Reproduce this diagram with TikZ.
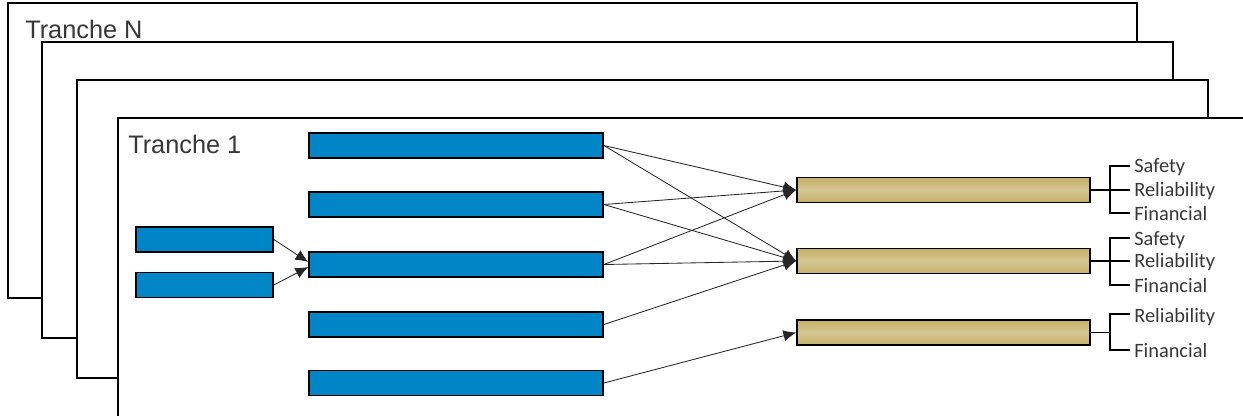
\documentclass[tikz,border=0pt]{standalone}
\usepackage{fontspec}
\setmainfont{Liberation Sans}
\newfontfamily\critfont{Carlito}
\usepackage{tikz}
\usetikzlibrary{arrows.meta}

\definecolor{boxblue}{RGB}{0,133,199}
\definecolor{boxtan}{RGB}{197,176,104}
\definecolor{inkgrey}{RGB}{56,56,56}

\tikzset{
  page/.style={draw=black,line width=1.4pt,fill=white},
  tranche/.style={anchor=base west,inner sep=0,text=inkgrey,font=\fontsize{18}{21}\selectfont},
  bluebox/.style={draw=black,line width=1.2pt,fill=boxblue,inner sep=0,minimum height=0.625cm},
  tanbox/.style={draw=black,line width=1.2pt,inner sep=0,minimum height=0.625cm,minimum width=7.325cm,
    top color=boxtan,bottom color=boxtan,middle color=boxtan!72!white},
  link/.style={draw=black!85,line width=0.6pt,-{Latex[length=9pt,width=8pt]}},
  brace/.style={draw=black,line width=0.8pt},
  crit/.style={anchor=base west,inner sep=0,text=inkgrey,font=\critfont\fontsize{14.5}{16}\selectfont}
}

\begin{document}
\begin{tikzpicture}[x=0.025cm,y=-0.025cm]

  \clip (0,0) rectangle (1243,415);

  % stacked tranche pages, back to front
  \draw[page] (8,3) rectangle (1137,298);
  \draw[page] (42,42) rectangle (1173,338);
  \draw[page] (77,80) rectangle (1208,378);
  \draw[page] (118,118) rectangle (1290,450);

  \node[tranche] (trN) at (25,38) {Tranche N};
  \node[tranche] (tr1) at (128,153) {Tranche 1};

  % inputs
  \node[bluebox,minimum width=3.425cm] (in1) at (204.5,239.5) {};
  \node[bluebox,minimum width=3.425cm] (in2) at (204.5,285) {};

  \node[bluebox,minimum width=7.35cm] (mid1) at (456,145.5) {};
  \node[bluebox,minimum width=7.35cm] (mid2) at (456,204.5) {};
  \node[bluebox,minimum width=7.35cm] (mid3) at (456,264.5) {};
  \node[bluebox,minimum width=7.35cm] (mid4) at (456,324.5) {};
  \node[bluebox,minimum width=7.35cm] (mid5) at (456,383) {};

  % outputs
  \node[tanbox] (out1) at (943.5,190) {};
  \node[tanbox] (out2) at (943.5,261) {};
  \node[tanbox] (out3) at (943.5,332.5) {};

  \draw[link] (in1.east) -- ([yshift=1.8pt]mid3.west);
  \draw[link] (in2.east) -- ([yshift=-1.8pt]mid3.west);

  \draw[link] (mid1.east) -- (out1.west);
  \draw[link] (mid1.east) -- (out2.west);
  \draw[link] (mid2.east) -- (out1.west);
  \draw[link] (mid2.east) -- (out2.west);
  \draw[link] (mid3.east) -- (out1.west);
  \draw[link] (mid3.east) -- (out2.west);
  \draw[link] (mid4.east) -- (out2.west);
  \draw[link] (mid5.east) -- (out3.west);

  % criteria brackets
  \coordinate (b1t) at (1130,166);
  \coordinate (b1m) at (1130,190);
  \coordinate (b1b) at (1130,213);
  \draw[brace] (out1.east) -- (b1m);
  \draw[brace] (b1t) -- (1110,166) -- (1110,213) -- (b1b);
  \node[crit] (safe1) at (1134,172) {Safety};
  \node[crit] (rel1) at (1134,196) {Reliability};
  \node[crit] (fin1) at (1134,220) {Financial};

  \coordinate (b2t) at (1130,238);
  \coordinate (b2m) at (1130,261);
  \coordinate (b2b) at (1130,285);
  \draw[brace] (out2.east) -- (b2m);
  \draw[brace] (b2t) -- (1110,238) -- (1110,285) -- (b2b);
  \node[crit] (safe2) at (1134,245) {Safety};
  \node[crit] (rel2) at (1134,267) {Reliability};
  \node[crit] (fin2) at (1134,292) {Financial};

  \coordinate (b3t) at (1130,314);
  \coordinate (b3m) at (1110,332.5);
  \coordinate (b3b) at (1130,350);
  \draw[brace] (out3.east) -- (b3m);
  \draw[brace] (b3t) -- (1110,314) -- (1110,350) -- (b3b);
  \node[crit] (rel3) at (1134,322) {Reliability};
  \node[crit] (fin3) at (1134,357) {Financial};

\end{tikzpicture}
\end{document}
